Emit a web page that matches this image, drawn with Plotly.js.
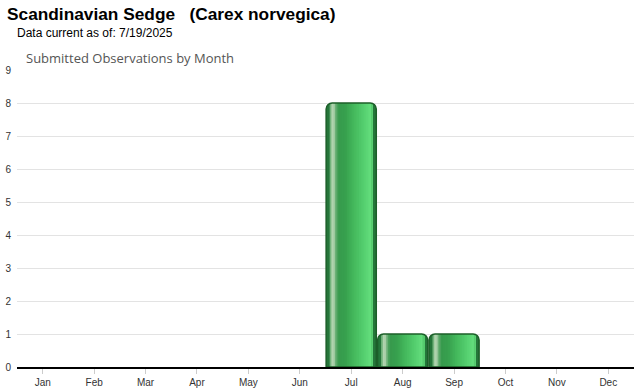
<!DOCTYPE html>
<html>
<head>
<meta charset="utf-8">
<script src="https://cdn.plot.ly/plotly-3.0.1.min.js"></script>
<style>html,body{margin:0;padding:0;background:#fff;}#chart{width:640px;height:390px;}</style>
</head>
<body>
<div id="chart"></div>
<script>
var months = ["Jan","Feb","Mar","Apr","May","Jun","Jul","Aug","Sep","Oct","Nov","Dec"];
var observations = [0,0,0,0,0,0,8,1,1,0,0,0];
var yTicks = [0,1,2,3,4,5,6,7,8,9];

var titleText = "Scandinavian Sedge &nbsp; (Carex norvegica)";
var subtitleText = "Data current as of: 7/19/2025";
var chartTitleText = "Submitted Observations by Month";

// only months with observations get a bar
var barValues = observations.map(function(v){ return v > 0 ? v : null; });

// gradient styling for the cylinder-like bars
var barWidth = 0.975;
var stops = [
  [0.00,"#1f6e30"],[0.05,"#2f8a42"],[0.09,"#78b680"],[0.12,"#b0d3ae"],
  [0.16,"#a6cda6"],[0.20,"#5aa868"],[0.25,"#379a4d"],[0.38,"#37a04e"],[0.55,"#44b85c"],
  [0.75,"#55cf6f"],[0.88,"#63dd7c"],[0.93,"#4fc066"],[0.97,"#2a7f3b"],[1.00,"#1a5e28"]
];
function hex(c){return [parseInt(c.substr(1,2),16),parseInt(c.substr(3,2),16),parseInt(c.substr(5,2),16)];}
function colorAt(t){
  for (var i=0;i<stops.length-1;i++){
    var a=stops[i], b=stops[i+1];
    if (t>=a[0] && t<=b[0]){
      var f=(t-a[0])/(b[0]-a[0]); var ca=hex(a[1]), cb=hex(b[1]);
      return "rgb("+[0,1,2].map(function(k){return Math.round(ca[k]+(cb[k]-ca[k])*f);}).join(",")+")";
    }
  }
  return stops[stops.length-1][1];
}

var traces = [];
traces.push({type:"bar", x:months, y:barValues, width:barWidth,
  marker:{color:"#25763a", cornerradius:6, line:{width:0}}, hoverinfo:"skip", showlegend:false});
var N = 25;
var x0 = 0.07, x1 = 0.93;
for (var i=0;i<N;i++){
  var t0 = x0 + (x1-x0)*i/N;
  var w = (x1-x0)/N;
  traces.push({type:"bar", x:months, y:barValues,
    width: (x1-t0)*barWidth, offset: -barWidth/2 + t0*barWidth,
    marker:{color:colorAt(t0 + w/2), line:{width:0}}, hoverinfo:"skip", showlegend:false});
}
traces.push({type:"bar", x:months, y:barValues, width:barWidth,
  marker:{color:"rgba(0,0,0,0)", cornerradius:6, line:{width:1.5, color:"#1c5f29"}},
  hoverinfo:"skip", showlegend:false});

var layout = {
  width:640, height:390,
  margin:{l:17, r:6, t:70, b:23},
  paper_bgcolor:"#fff", plot_bgcolor:"#fff",
  barmode:"overlay",
  font:{family:"Liberation Sans, Arial, sans-serif", size:10, color:"#333"},
  xaxis:{type:"category", categoryorder:"array", categoryarray:months,
    showline:true, linecolor:"#000", linewidth:2, ticks:"outside", ticklen:5,
    tickcolor:"#cccccc", tickwidth:1, showgrid:false, zeroline:false,
    tickfont:{size:10, color:"#333"}, fixedrange:true},
  yaxis:{range:[0,9], tickvals:yTicks, ticks:"", showgrid:true, gridcolor:"#e3e3e3",
    gridwidth:1, zeroline:false, showline:false, tickfont:{size:10, color:"#333"},
    ticklabelstandoff:5, fixedrange:true},
  annotations:[
    {text:"<b>"+titleText+"</b>", xref:"paper", yref:"paper", x:-12/617, y:1, xanchor:"left", yanchor:"bottom",
     yshift:44, showarrow:false, font:{family:"Liberation Sans, Arial, sans-serif", size:17.3, color:"#000"}},
    {text:subtitleText, xref:"paper", yref:"paper", x:-2/617, y:1, xanchor:"left", yanchor:"bottom",
     yshift:28, showarrow:false, font:{family:"Liberation Sans, Arial, sans-serif", size:12, color:"#000"}},
    {text:chartTitleText, xref:"paper", yref:"paper", x:7/617, y:1, xanchor:"left", yanchor:"bottom",
     yshift:1, showarrow:false, font:{family:"Open Sans, sans-serif", size:13, color:"#555"}}
  ]
};
Plotly.newPlot("chart", traces, layout, {displayModeBar:false, staticPlot:true});
</script>
</body>
</html>
